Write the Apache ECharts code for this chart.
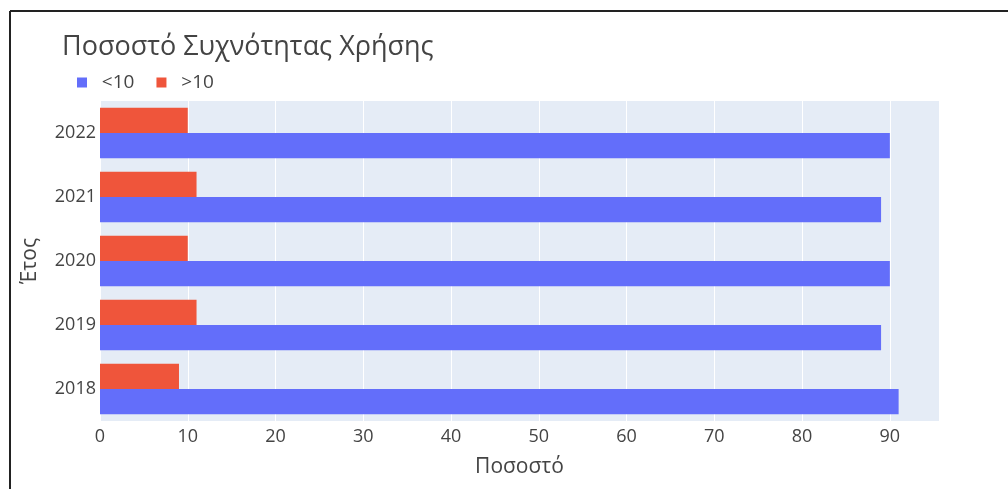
<!DOCTYPE html>
<html>
<head>
<meta charset="utf-8">
<script src="https://cdn.jsdelivr.net/npm/echarts@6/dist/echarts.min.js"></script>
<style>html,body{margin:0;padding:0;background:#fff;}#c{width:1008px;height:489px;}</style>
</head>
<body>
<div id="c"></div>
<script>
const years = ['2018', '2019', '2020', '2021', '2022'];
const below10 = [91, 89, 90, 89, 90];
const above10 = [9, 11, 10, 11, 10];
const xTicks = [0, 10, 20, 30, 40, 50, 60, 70, 80, 90];

const chart = echarts.init(document.getElementById('c'));
const font = '"Open Sans", "Noto Sans", sans-serif';
chart.setOption({
  animation: false,
  backgroundColor: '#fff',
  title: {
    text: 'Ποσοστό Συχνότητας Χρήσης',
    left: 57, top: 29,
    textStyle: {fontFamily: font, fontSize: 27, fontWeight: 'normal', color: '#444'}
  },
  legend: {
    data: ['<10', '>10'],
    left: 72, top: 68,
    itemWidth: 10, itemHeight: 10, itemGap: 22,
    icon: 'rect',
    formatter: n => '  ' + n,
    textStyle: {fontFamily: font, fontSize: 19, color: '#444'}
  },
  grid: {left: 100, right: 69, top: 101, bottom: 68, backgroundColor: '#E5ECF6', show: true, borderWidth: 0},
  xAxis: {
    type: 'value', min: 0, max: 95.6, interval: 10,
    name: 'Ποσοστό', nameLocation: 'middle', nameGap: 36,
    nameTextStyle: {fontFamily: font, fontSize: 21, color: '#444'},
    axisLine: {show: false}, axisTick: {show: false},
    axisLabel: {fontFamily: font, fontSize: 18, color: '#444', margin: 7,
      formatter: v => xTicks.includes(v) ? String(v) : ''},
    splitLine: {lineStyle: {color: '#fff', width: 1}}
  },
  yAxis: {
    type: 'category', data: years,
    name: 'Έτος', nameLocation: 'middle', nameGap: 59, nameRotate: 90,
    nameTextStyle: {fontFamily: font, fontSize: 21, color: '#444'},
    axisLine: {show: false}, axisTick: {show: false},
    axisLabel: {fontFamily: font, fontSize: 18, color: '#444', margin: 4},
    splitLine: {show: false}
  },
  series: [
    {name: '>10', type: 'bar', data: above10, itemStyle: {color: '#EF553B'}, barGap: '0%', barCategoryGap: '21%'},
    {name: '<10', type: 'bar', data: below10, itemStyle: {color: '#636EFA'}, barGap: '0%', barCategoryGap: '21%'}
  ],
  graphic: [
    {type: 'line', shape: {x1: 10, y1: 11, x2: 1008, y2: 11}, style: {stroke: '#222', lineWidth: 2}},
    {type: 'line', shape: {x1: 10, y1: 11, x2: 10, y2: 489}, style: {stroke: '#222', lineWidth: 2}}
  ]
});
</script>
</body>
</html>
